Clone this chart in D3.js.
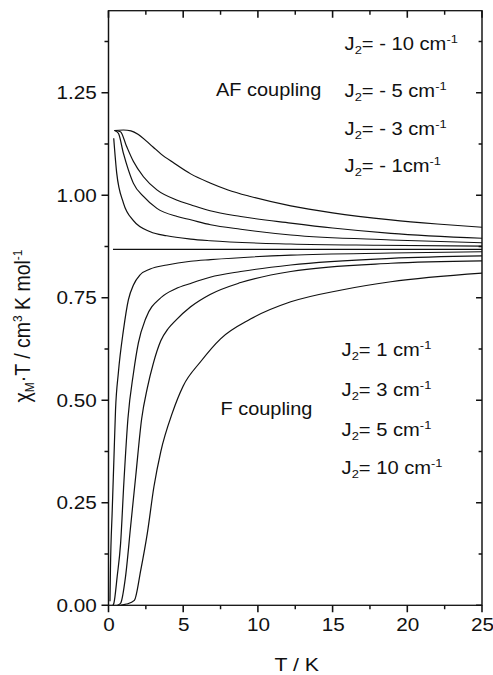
<!DOCTYPE html>
<html>
<head>
<meta charset="utf-8">
<script src="https://cdn.jsdelivr.net/npm/d3@7"></script>
<style>
  body { margin: 0; background: #fff; }
  text { font-family: "Liberation Sans", Arial, sans-serif; fill: #111; }
</style>
</head>
<body>
<div class="chart"></div>
<script>
// chi_M.T vs T curves
var tJm10 = [0.4, 1, 1.5, 2, 2.5, 3, 3.5, 4.4, 5.5, 6.8, 8, 9.5, 12.2, 15, 18.9, 22, 25];
var vJm10 = [1.158, 1.159, 1.157, 1.148, 1.133, 1.117, 1.101, 1.078, 1.052, 1.030, 1.013, 0.997, 0.974, 0.957, 0.940, 0.930, 0.922];

var tJm5 = [0.4, 0.8, 1.2, 1.67, 2.34, 3.24, 4.6, 5.5, 6.8, 8.85, 12.2, 15, 18.9, 25];
var vJm5 = [1.158, 1.155, 1.12, 1.082, 1.045, 1.013, 0.988, 0.977, 0.962, 0.948, 0.932, 0.92, 0.907, 0.895];

var tJm3 = [0.4, 0.66, 1.0, 1.33, 1.67, 2.34, 3.24, 4.6, 5.5, 6.83, 8.85, 12.2, 18.9, 25];
var vJm3 = [1.158, 1.151, 1.102, 1.062, 1.029, 0.997, 0.968, 0.948, 0.94, 0.928, 0.917, 0.903, 0.891, 0.884];

var tJm1 = [0.35, 0.55, 1.0, 1.67, 2.8, 3.9, 5.5, 6.8, 12.2, 18, 25];
var vJm1 = [1.139, 1.054, 0.981, 0.938, 0.911, 0.901, 0.893, 0.889, 0.881, 0.878, 0.876];

var tJ0 = [0.3, 25];
var vJ0 = [0.868, 0.868];

var tJ1 = [0.1, 0.13, 0.25, 0.36, 0.47, 0.66, 1.0, 1.33, 1.67, 2.12, 2.79, 3.91, 5.5, 6.83, 12.2, 18.9, 25];
var vJ1 = [0.01, 0.086, 0.232, 0.354, 0.476, 0.567, 0.671, 0.745, 0.781, 0.806, 0.820, 0.830, 0.839, 0.843, 0.854, 0.859, 0.862];

var tJ3 = [0.3, 0.36, 0.58, 0.81, 1.03, 1.3, 1.67, 2.0, 2.5, 3.5, 4.5, 5.5, 6.8, 8.85, 12.2, 18.9, 25];
var vJ3 = [0, 0.005, 0.07, 0.151, 0.30, 0.455, 0.566, 0.64, 0.70, 0.75, 0.772, 0.785, 0.80, 0.814, 0.830, 0.846, 0.852];

var tJ5 = [0.6, 0.81, 1.14, 1.48, 1.82, 2.22, 2.6, 3.0, 3.5, 4.0, 4.5, 5.5, 6.8, 8.85, 12.2, 18.9, 25];
var vJ5 = [0, 0.005, 0.07, 0.192, 0.314, 0.455, 0.53, 0.59, 0.645, 0.675, 0.695, 0.728, 0.758, 0.787, 0.814, 0.834, 0.840];

var tJ10 = [0.8, 1.2, 1.73, 2.16, 2.6, 3.04, 3.5, 4.28, 5.0, 6.16, 7.5, 9.5, 12.2, 15.6, 18.9, 25];
var vJ10 = [0, 0.003, 0.012, 0.086, 0.176, 0.289, 0.375, 0.47, 0.535, 0.594, 0.650, 0.698, 0.740, 0.769, 0.789, 0.810];

var afLabels = ["= - 10 cm", "= - 5 cm", "= - 3 cm", "= - 1cm"];
var fLabels = ["= 1 cm", "= 3 cm", "= 5 cm", "= 10 cm"];

var xTicks = [0, 5, 10, 15, 20, 25];
var xMinorTicks = [2.5, 7.5, 12.5, 17.5, 22.5];
var yTicks = [0, 0.25, 0.5, 0.75, 1.0, 1.25];
var yMinorTicks = [0.125, 0.375, 0.625, 0.875, 1.125, 1.375];

var series = [
    [tJm10, vJm10], [tJm5, vJm5], [tJm3, vJm3], [tJm1, vJm1], [tJ0, vJ0],
    [tJ1, vJ1], [tJ3, vJ3], [tJ5, vJ5], [tJ10, vJ10]
].map(function(s) {
    return s[0].map(function(t, i) { return { t: t, v: s[1][i] }; });
});

var svgWidth = 493;
var svgHeight = 675;

// the scanned figure is a bit wider than tall, so the whole drawing is stretched in x
var stretch = 1.12;

var margin = { top: 10.7, right: 11, bottom: 69.7, left: 108.5 };
var plotLeft = margin.left / stretch;
var plotRight = (svgWidth - margin.right) / stretch;
var plotTop = margin.top;
var plotBottom = svgHeight - margin.bottom;

var svg = d3.select(".chart")
    .append("svg")
    .attr("width", svgWidth)
    .attr("height", svgHeight);

var chart = svg.append("g")
    .attr("transform", "scale(" + stretch + ",1)");

var x = d3.scaleLinear().domain([0, 25]).range([plotLeft, plotRight]);
var y = d3.scaleLinear().domain([0, 1.45]).range([plotBottom, plotTop]);

// axes give the labels; tick marks are drawn below as paths
function labelsOnly(g) {
    g.select(".domain").remove();
    g.selectAll(".tick line").remove();
    g.selectAll(".tick text")
        .attr("font-size", "18.5px")
        .style("fill", "#111");
}

chart.append("g")
    .attr("transform", "translate(0," + plotBottom + ")")
    .call(d3.axisBottom(x).tickValues(xTicks).tickSize(7).tickPadding(6).tickFormat(d3.format("d")))
    .call(labelsOnly);

chart.append("g")
    .attr("transform", "translate(" + plotLeft + ",0)")
    .call(d3.axisLeft(y).tickValues(yTicks).tickSize(6.5).tickPadding(4).tickFormat(d3.format(".2f")))
    .call(labelsOnly);

// x ticks: outward at bottom, inward at top
function xTickPath(values, len, w) {
    var d = values.map(function(v) {
        return "M" + x(v) + "," + plotBottom + "v" + len +
            "M" + x(v) + "," + plotTop + "v" + len;
    }).join("");
    chart.append("path")
        .attr("d", d)
        .attr("fill", "none")
        .attr("stroke", "#111")
        .attr("stroke-width", w);
}

// y ticks: outward on the left, inward on the right
function yTickPath(values, len, w) {
    var dx = len / stretch;
    var d = values.map(function(v) {
        return "M" + (plotLeft - dx) + "," + y(v) + "h" + dx +
            "M" + plotRight + "," + y(v) + "h" + (-dx * 0.85);
    }).join("");
    chart.append("path")
        .attr("d", d)
        .attr("fill", "none")
        .attr("stroke", "#111")
        .attr("stroke-width", w);
}

xTickPath(xTicks, 7, 1.4);
xTickPath(xMinorTicks, 4, 1.3);
yTickPath(yTicks, 7, 1.5);
yTickPath(yMinorTicks, 4, 1.4);

// frame
chart.append("rect")
    .attr("x", plotLeft)
    .attr("y", plotTop)
    .attr("width", plotRight - plotLeft)
    .attr("height", plotBottom - plotTop)
    .attr("fill", "none")
    .attr("stroke", "#111")
    .attr("stroke-width", 1.3);

var line = d3.line()
    .x(function(d) { return x(d.t); })
    .y(function(d) { return y(d.v); })
    .curve(d3.curveMonotoneX);

chart.selectAll(".curve")
    .data(series)
    .enter()
    .append("path")
    .attr("class", "curve")
    .attr("d", line)
    .attr("fill", "none")
    .attr("stroke", "#111")
    .attr("stroke-width", 1.1);

// J2 label: "J" + subscript 2 + text + superscript -1
function jLabel(g, tx, ty, label) {
    var t = g.append("text")
        .attr("x", x(tx))
        .attr("y", y(ty))
        .attr("font-size", "18px");
    t.append("tspan").text("J");
    t.append("tspan").attr("dy", 4).attr("font-size", "11.5px").text("2");
    t.append("tspan").attr("dy", -4).text(label);
    t.append("tspan").attr("dy", -7).attr("font-size", "11.5px").text("-1");
}

var afRows = [1.354, 1.240, 1.146, 1.056];
afLabels.forEach(function(l, i) { jLabel(chart, 15.8, afRows[i], l); });

var fRows = [0.608, 0.510, 0.413, 0.320];
fLabels.forEach(function(l, i) { jLabel(chart, 15.6, fRows[i], l); });

chart.append("text")
    .attr("x", x(7.2))
    .attr("y", y(1.241))
    .attr("font-size", "17.8px")
    .text("AF coupling");

chart.append("text")
    .attr("x", x(7.5))
    .attr("y", y(0.464))
    .attr("font-size", "17.8px")
    .text("F coupling");

// axis titles
chart.append("text")
    .attr("x", x(12.6))
    .attr("y", 671)
    .attr("text-anchor", "middle")
    .attr("font-size", "19px")
    .text("T / K");

var yTitle = chart.append("text")
    .attr("transform", "translate(" + (30 / stretch) + ",326) rotate(-90)")
    .attr("text-anchor", "middle")
    .attr("font-size", "19.5px");
yTitle.append("tspan").text("\u03c7");
yTitle.append("tspan").attr("dy", 4).attr("font-size", "12px").text("M");
yTitle.append("tspan").attr("dy", -4).text("\u00b7T / cm");
yTitle.append("tspan").attr("dy", -7).attr("font-size", "12px").text("3");
yTitle.append("tspan").attr("dy", 7).text(" K mol");
yTitle.append("tspan").attr("dy", -7).attr("font-size", "12px").text("-1");
</script>
</body>
</html>
